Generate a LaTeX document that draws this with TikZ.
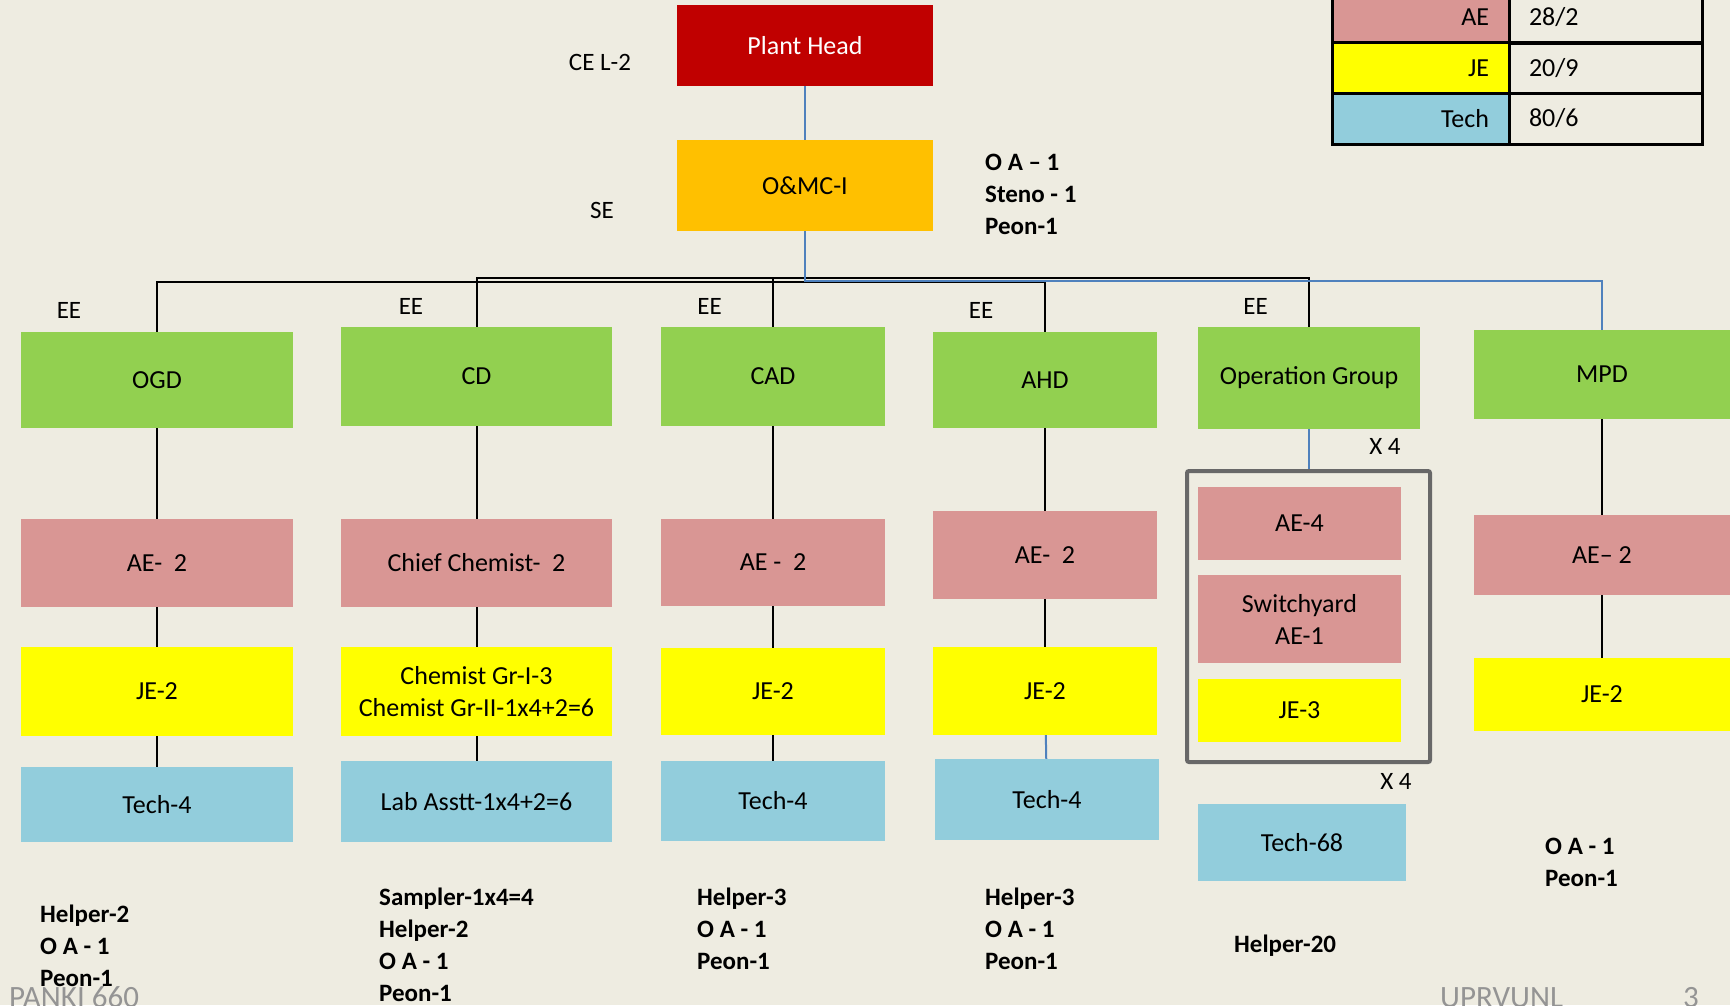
\documentclass[tikz,border=0pt]{standalone}
\usepackage{fontspec}
\setmainfont{Carlito}
\usepackage{xcolor}
\usetikzlibrary{calc}
\definecolor{Paper}{HTML}{EEECE1}
\definecolor{Head}{HTML}{C00000}
\definecolor{Amber}{HTML}{FFC000}
\definecolor{Leaf}{HTML}{92D050}
\definecolor{Rose}{HTML}{D99694}
\definecolor{Lemon}{HTML}{FFFF00}
\definecolor{Sky}{HTML}{92CDDC}
\definecolor{Wire}{HTML}{4F81BD}
\definecolor{Frame}{HTML}{686868}

\begin{document}
\begin{tikzpicture}[x=1pt,y=-1pt,
  box/.style 2 args={inner sep=0pt,minimum width=#1,minimum height=#2,align=center,font=\fontsize{26}{32}\selectfont},
  dept/.style={fill=Leaf},
  ae/.style={fill=Rose},
  je/.style={fill=Lemon},
  tech/.style={fill=Sky},
  lbl/.style={font=\fontsize{25}{32}\selectfont},
  note/.style={anchor=west,align=left,inner xsep=0pt,font=\fontsize{25}{32}\selectfont\bfseries},
  foot/.style={anchor=base west,inner xsep=0pt,text=black!42,font=\fontsize{31}{36}\selectfont},
  link/.style={line width=2pt,black},
  blink/.style={line width=2pt,Wire},
  cell/.style={draw,line width=3pt,inner xsep=20pt,inner ysep=0pt,minimum height=51pt,font=\fontsize{26}{32}\selectfont}
]
\fill[Paper] (0,0) rectangle (1730,1005);
\useasboundingbox (0,0) rectangle (1730,1005);

% top
\node[box={256pt}{81pt},fill=Head,text=white] (ph) at (805,45.5) {Plant Head};
\node[box={256pt}{91pt},fill=Amber] (omc) at (805,185.5) {O\&MC-I};
\node[lbl] (ce) at (600,62) {CE L-2};
\node[lbl] (se) at (602,210) {SE};
\node[note] (omcstaff) at (985,194) {O A -- 1\\Steno - 1\\Peon-1};

% departments
\node[box={272pt}{96pt},dept] (ogd) at (157,380) {OGD};
\node[box={271pt}{99pt},dept] (cd) at (476.5,376.5) {CD};
\node[box={224pt}{99pt},dept] (cad) at (773,376.5) {CAD};
\node[box={224pt}{96pt},dept] (ahd) at (1045,380) {AHD};
\node[box={222pt}{102pt},dept] (opg) at (1309,378) {Operation Group};
\node[box={256pt}{89pt},dept] (mpd) at (1602,374.5) {MPD};
\node[lbl] (ee1) at (69,310) {EE};
\node[lbl] (ee2) at (411,306) {EE};
\node[lbl] (ee3) at (709.5,306) {EE};
\node[lbl] (ee4) at (981,310.5) {EE};
\node[lbl] (ee5) at (1255.5,306) {EE};

% OGD
\node[box={272pt}{88pt},ae] (ae1) at (157,563) {AE-~~2};
\node[box={272pt}{89pt},je] (je1) at (157,691.5) {JE-2};
\node[box={272pt}{75pt},tech] (te1) at (157,804.5) {Tech-4};
% CD
\node[box={271pt}{88pt},ae] (ae2) at (476.5,563) {Chief Chemist-~~2};
\node[box={271pt}{89pt},je] (je2) at (476.5,691.5) {Chemist Gr-I-3\\Chemist Gr-II-1x4+2=6};
\node[box={271pt}{81pt},tech] (te2) at (476.5,801.5) {Lab Asstt-1x4+2=6};
% CAD
\node[box={224pt}{87pt},ae] (ae3) at (773,562.5) {AE -~~2};
\node[box={224pt}{87pt},je] (je3) at (773,691.5) {JE-2};
\node[box={224pt}{80pt},tech] (te3) at (773,801) {Tech-4};
% AHD
\node[box={224pt}{88pt},ae] (ae4) at (1045,555) {AE-~~2};
\node[box={224pt}{88pt},je] (je4) at (1045,691) {JE-2};
\node[box={224pt}{81pt},tech] (te4) at (1047,799.5) {Tech-4};
% operation group
\node[draw=Frame,line width=4pt,rounded corners=2pt,inner sep=0pt,minimum width=243pt,minimum height=291pt] (frm) at (1308.5,616.5) {};
\node[box={203pt}{73pt},ae] (ae5) at (1299.5,523.5) {AE-4};
\node[box={203pt}{88pt},ae] (sw5) at (1299.5,619) {Switchyard\\AE-1};
\node[box={203pt}{63pt},je] (je5) at (1299.5,710.5) {JE-3};
\node[box={208pt}{77pt},tech] (te5) at (1302,842.5) {Tech-68};
\node[lbl] (x4a) at (1385,446) {X 4};
\node[lbl] (x4b) at (1396,781) {X 4};
% MPD
\node[box={256pt}{80pt},ae] (ae6) at (1602,555) {AE-- 2};
\node[box={256pt}{73pt},je] (je6) at (1602,694.5) {JE-2};

% staff notes
\node[note] (n1) at (40,946) {Helper-2\\O A - 1\\Peon-1};
\node[note] (n2) at (379,944.5) {Sampler-1x4=4\\Helper-2\\O A - 1\\Peon-1};
\node[note] (n3) at (697,929) {Helper-3\\O A - 1\\Peon-1};
\node[note] (n4) at (985,929) {Helper-3\\O A - 1\\Peon-1};
\node[note] (n5) at (1234,946) {Helper-20};
\node[note] (n6) at (1545,862) {O A - 1\\Peon-1};

% summary table
\node[cell,fill=Rose,minimum width=177pt,text width=137pt,align=right] (kae) at (1420.5,17.5) {AE};
\node[cell,minimum width=193pt,text width=153pt,align=left] (vae) at (1605.5,17.5) {28/2};
\node[cell,fill=Lemon,minimum width=177pt,text width=137pt,align=right] (kje) at (1420.5,68) {JE};
\node[cell,minimum width=193pt,text width=153pt,align=left] (vje) at (1605.5,68) {20/9};
\node[cell,fill=Sky,minimum width=177pt,text width=137pt,align=right] (kte) at (1420.5,118.5) {Tech};
\node[cell,minimum width=193pt,text width=153pt,align=left] (vte) at (1605.5,118.5) {80/6};

% footer
\node[foot] (fl) at (9,1007) {PANKI 660};
\node[foot] (fm) at (1440,1007) {UPRVUNL};
\node[foot] (fr) at (1683,1007) {3};

% connectors
\coordinate (busA) at (0,278);
\coordinate (busB) at (0,282);
\coordinate (busC) at (0,281);
\draw[link] (cd.north) |- (opg.north |- busA) -- (opg.north);
\draw[link] (cad.north) -- (cad.north |- busA);
\draw[link] (ogd.north) |- (ahd.north |- busB) -- (ahd.north);
\draw[blink] (ph) -- (omc);
\draw[blink] (omc.south) |- (mpd.north |- busC) -- (mpd.north);
\foreach \a/\b in {ogd/ae1,ae1/je1,je1/te1,cd/ae2,ae2/je2,je2/te2,cad/ae3,ae3/je3,je3/te3,ahd/ae4,ae4/je4,mpd/ae6,ae6/je6}
  \draw[link] (\a) -- (\b);
\draw[blink] (je4) -- (te4);
\draw[blink] (opg.south) -- (opg.south |- frm.north);
\end{tikzpicture}
\end{document}
